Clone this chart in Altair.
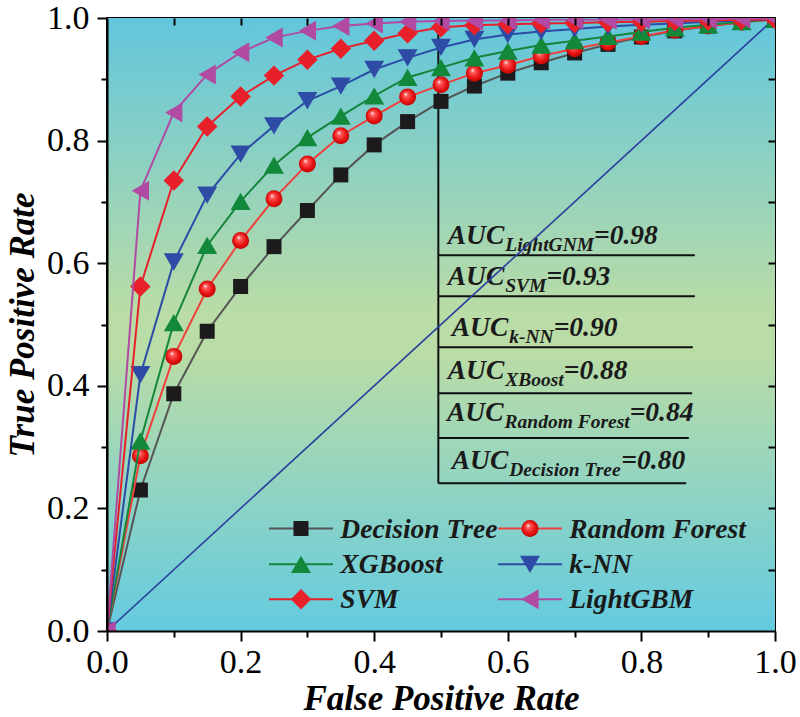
import altair as alt
import pandas as pd

# ---------------- data ----------------
fpr = [0.00, 0.05, 0.10, 0.15, 0.20, 0.25, 0.30, 0.35, 0.40, 0.45, 0.50,
       0.55, 0.60, 0.65, 0.70, 0.75, 0.80, 0.85, 0.90, 0.95, 1.00]
tpr_decision_tree = [0.0, 0.230, 0.387, 0.489, 0.562, 0.627, 0.686, 0.744, 0.793, 0.831, 0.864,
                     0.889, 0.910, 0.927, 0.943, 0.957, 0.969, 0.979, 0.987, 0.993, 0.998]
tpr_random_forest = [0.0, 0.286, 0.448, 0.558, 0.637, 0.705, 0.762, 0.808, 0.840, 0.871, 0.891,
                     0.910, 0.923, 0.938, 0.950, 0.960, 0.970, 0.980, 0.987, 0.993, 0.998]
tpr_xgboost = [0.0, 0.310, 0.503, 0.629, 0.701, 0.760, 0.805, 0.840, 0.873, 0.903, 0.919,
               0.935, 0.946, 0.956, 0.963, 0.970, 0.977, 0.984, 0.989, 0.994, 0.998]
tpr_knn = [0.0, 0.418, 0.602, 0.711, 0.778, 0.824, 0.865, 0.889, 0.916, 0.935, 0.952,
           0.965, 0.973, 0.978, 0.982, 0.986, 0.989, 0.991, 0.994, 0.996, 0.998]
tpr_svm = [0.0, 0.562, 0.735, 0.823, 0.872, 0.906, 0.932, 0.950, 0.963, 0.975, 0.985,
           0.988, 0.990, 0.991, 0.992, 0.993, 0.994, 0.995, 0.996, 0.997, 0.998]
tpr_lightgbm = [0.0, 0.718, 0.846, 0.908, 0.944, 0.968, 0.979, 0.987, 0.991, 0.994, 0.995,
                0.996, 0.996, 0.997, 0.997, 0.997, 0.998, 0.998, 0.998, 0.999, 0.999]

models = ["Decision Tree", "Random Forest", "XGBoost", "k-NN", "SVM", "LightGBM"]
series = [tpr_decision_tree, tpr_random_forest, tpr_xgboost, tpr_knn, tpr_svm, tpr_lightgbm]

diag_x = [0.0, 1.0]
diag_y = [0.0, 1.0]

auc_names = ["LightGNM", "SVM", "k-NN", "XBoost", "Random Forest", "Decision Tree"]
auc_values = ["0.98", "0.93", "0.90", "0.88", "0.84", "0.80"]

all_ticks = [0.0, 0.1, 0.2, 0.3, 0.4, 0.5, 0.6, 0.7, 0.8, 0.9, 1.0]
inner_ticks = [0.1, 0.2, 0.3, 0.4, 0.5, 0.6, 0.7, 0.8, 0.9]

# ---------------- layout / style ----------------
W, H = 668, 613
SERIF = "Liberation Serif"

line_colors = ["#555555", "#f0403c", "#16853c", "#2c4ca6", "#e8202a", "#b04aa2"]
marker_colors = ["#1c1a1c", "#e81c1c", "#12883a", "#2e4ca6", "#e8202a", "#b04aa2"]
shapes = ["square", "circle", "triangle-up", "triangle-down", "diamond", "triangle-left"]
sizes = [225, 289, 400, 400, 420, 400]

sphere = alt.RadialGradient(
    gradient="radial", x1=0.38, y1=0.32, r1=0.0, x2=0.5, y2=0.5, r2=0.55,
    stops=[alt.GradientStop(offset=0.0, color="#ffffff"),
           alt.GradientStop(offset=0.22, color="#ff5a5a"),
           alt.GradientStop(offset=0.65, color="#e81414"),
           alt.GradientStop(offset=1.0, color="#b80000")])

bg_grad = alt.LinearGradient(
    gradient="linear", x1=0, y1=0, x2=0, y2=1,
    stops=[alt.GradientStop(offset=0.0, color="#62c6dc"),
           alt.GradientStop(offset=0.48, color="#badca6"),
           alt.GradientStop(offset=0.55, color="#badca6"),
           alt.GradientStop(offset=1.0, color="#64cbe0")])

xs = alt.Scale(domain=[0, 1], nice=False, zero=False)
ys = alt.Scale(domain=[0, 1], nice=False, zero=False)

is_major = "round(datum.value*10) % 2 == 0"

x_axis = alt.Axis(orient="bottom", values=all_ticks, title="False Positive Rate",
                  labelExpr=f"({is_major}) ? format(datum.value, '.1f') : ''",
                  tickSize={"condition": {"test": is_major, "value": 10}, "value": 6},
                  tickWidth=2, tickColor="black", domainColor="black", domainWidth=2,
                  labelFont=SERIF, labelFontSize=34, labelColor="black", labelPadding=4,
                  labelFlush=False, labelOverlap=False,
                  titleFont=SERIF, titleFontSize=35, titleFontWeight="bold",
                  titleFontStyle="italic", titleColor="black",
                  titleX=W / 2, titleY=78, titleAlign="center", titleBaseline="alphabetic",
                  grid=False, zindex=1)
y_axis = alt.Axis(orient="left", values=all_ticks, title="True Positive Rate",
                  labelExpr=f"({is_major}) ? format(datum.value, '.1f') : ''",
                  tickSize={"condition": {"test": is_major, "value": 10}, "value": 6},
                  tickWidth=2, tickColor="black", domainColor="black", domainWidth=2,
                  labelFont=SERIF, labelFontSize=34, labelColor="black", labelPadding=8,
                  labelFlush=False, labelOverlap=False,
                  titleFont=SERIF, titleFontSize=35, titleFontWeight="bold",
                  titleFontStyle="italic", titleColor="black", titleAngle=270,
                  titleX=-74, titleY=H / 2, titleAlign="center", titleBaseline="alphabetic",
                  grid=False, zindex=1)
x_top = alt.Axis(orient="top", values=inner_ticks, labels=False, domain=False, title=None,
                 tickSize=7, offset=-7, tickWidth=2, tickColor="black", grid=False, zindex=1)
y_right = alt.Axis(orient="right", values=inner_ticks, labels=False, domain=False, title=None,
                   tickSize=7, offset=-7, tickWidth=2, tickColor="black", grid=False, zindex=1)

# ---------------- tables ----------------
rows = []
for m, vals in zip(models, series):
    for i, (fx, ty) in enumerate(zip(fpr, vals)):
        rows.append({"model": m, "fpr": fx, "tpr": ty, "idx": i})
roc = pd.DataFrame(rows)

layers = []

# background gradient
bg = pd.DataFrame({"x0": [0.0], "x1": [1.0], "y0": [0.0], "y1": [1.0]})
layers.append(alt.Chart(bg).mark_rect(fill=bg_grad, stroke=None).encode(
    x=alt.X("x0:Q", scale=xs, axis=None), x2="x1:Q",
    y=alt.Y("y0:Q", scale=ys, axis=None), y2="y1:Q"))

# AUC table lines
tbl_x = 0.496
tbl_top = 1.0
tbl_line_y = [0.613, 0.546, 0.463, 0.388, 0.315, 0.241]
tbl_line_end = [0.880, 0.880, 0.877, 0.876, 0.871, 0.867]
hl = pd.DataFrame({"x0": [tbl_x] * 6, "x1": tbl_line_end, "y": tbl_line_y})
layers.append(alt.Chart(hl).mark_rule(color="#111111", strokeWidth=2).encode(
    x=alt.X("x0:Q", scale=xs, axis=None), x2="x1:Q", y=alt.Y("y:Q", scale=ys, axis=None)))
vl = pd.DataFrame({"x": [tbl_x], "y0": [min(tbl_line_y)], "y1": [tbl_top]})
layers.append(alt.Chart(vl).mark_rule(color="#111111", strokeWidth=2).encode(
    x=alt.X("x:Q", scale=xs, axis=None), y=alt.Y("y0:Q", scale=ys, axis=None), y2="y1:Q"))

# AUC text (main + subscript), widths from Times Bold Italic metrics
BI = {" ": 250, "=": 570, ".": 250, "-": 333,
      "A": 667, "B": 667, "C": 667, "D": 722, "E": 667, "F": 667, "G": 722, "H": 778,
      "I": 389, "J": 500, "K": 667, "L": 611, "M": 889, "N": 722, "O": 722, "P": 611,
      "Q": 722, "R": 667, "S": 556, "T": 611, "U": 722, "V": 667, "W": 889, "X": 667,
      "Y": 611, "Z": 611, "a": 500, "b": 500, "c": 444, "d": 500, "e": 444, "f": 333,
      "g": 500, "h": 556, "i": 278, "j": 278, "k": 500, "l": 278, "m": 778, "n": 556,
      "o": 500, "p": 500, "q": 500, "r": 389, "s": 389, "t": 278, "u": 556, "v": 444,
      "w": 667, "x": 500, "y": 444, "z": 389}


def tw(s, size):
    return sum(BI.get(c, 500) for c in s) / 1000.0 * size


AUC_SIZE, SUB_SIZE = 27.5, 19.5
auc_x = [0.510, 0.510, 0.516, 0.510, 0.509, 0.516]
auc_y = [0.632, 0.565, 0.481, 0.411, 0.343, 0.265]
main_rows, sub_rows = [], []
for name, val, ax, ay in zip(auc_names, auc_values, auc_x, auc_y):
    main_rows.append({"x": ax, "y": ay, "t": "AUC"})
    sx = ax + (tw("AUC", AUC_SIZE) + 1) / W
    sub_rows.append({"x": sx, "y": ay, "t": name})
    vx = sx + tw(name, SUB_SIZE) / W
    main_rows.append({"x": vx, "y": ay, "t": "=" + val})
layers.append(alt.Chart(pd.DataFrame(main_rows)).mark_text(
    font=SERIF, fontSize=AUC_SIZE, fontWeight="bold", fontStyle="italic", color="#1a1a1a",
    align="left", baseline="alphabetic").encode(
    x=alt.X("x:Q", scale=xs, axis=None), y=alt.Y("y:Q", scale=ys, axis=None), text="t:N"))
layers.append(alt.Chart(pd.DataFrame(sub_rows)).mark_text(
    font=SERIF, fontSize=SUB_SIZE, fontWeight="bold", fontStyle="italic", color="#1a1a1a",
    align="left", baseline="alphabetic", dy=7).encode(
    x=alt.X("x:Q", scale=xs, axis=None), y=alt.Y("y:Q", scale=ys, axis=None), text="t:N"))

# diagonal reference
diag = pd.DataFrame({"x": diag_x, "y": diag_y})
layers.append(alt.Chart(diag).mark_line(color="#2b3f9e", strokeWidth=1.6, clip=True).encode(
    x=alt.X("x:Q", scale=xs, axis=None), y=alt.Y("y:Q", scale=ys, axis=None)))

# ROC curves and markers
for k, m in enumerate(models):
    base = alt.Chart(roc).transform_filter(alt.datum.model == m)
    layers.append(base.mark_line(color=line_colors[k], strokeWidth=2, clip=True).encode(
        x=alt.X("fpr:Q", scale=xs, axis=None), y=alt.Y("tpr:Q", scale=ys, axis=None),
        order="idx:Q"))
    fill = sphere if m == "Random Forest" else marker_colors[k]
    layers.append(base.mark_point(shape=shapes[k], size=sizes[k], filled=True, fill=fill,
                                  strokeWidth=0, opacity=1, clip=True).encode(
        x=alt.X("fpr:Q", scale=xs, axis=None), y=alt.Y("tpr:Q", scale=ys, axis=None)))

# manual legend (2 columns x 3 rows)
leg_col_x0 = [0.2425, 0.5853]
leg_seg = 0.0958
leg_text_gap = 0.0110
leg_row_y = [0.1672, 0.1088, 0.0519]
leg = []
for k, m in enumerate(models):
    c, r = k % 2, k // 2
    x0 = leg_col_x0[c]
    leg.append({"model": m, "x0": x0, "x1": x0 + leg_seg, "xm": x0 + leg_seg / 2,
                "xt": x0 + leg_seg + leg_text_gap, "y": leg_row_y[r]})
legdf = pd.DataFrame(leg)
for k, m in enumerate(models):
    b = alt.Chart(legdf).transform_filter(alt.datum.model == m)
    layers.append(b.mark_rule(color=line_colors[k], strokeWidth=2).encode(
        x=alt.X("x0:Q", scale=xs, axis=None), x2="x1:Q", y=alt.Y("y:Q", scale=ys, axis=None)))
    fill = sphere if m == "Random Forest" else marker_colors[k]
    layers.append(b.mark_point(shape=shapes[k], size=sizes[k], filled=True, fill=fill,
                               strokeWidth=0, opacity=1).encode(
        x=alt.X("xm:Q", scale=xs, axis=None), y=alt.Y("y:Q", scale=ys, axis=None)))
layers.append(alt.Chart(legdf).mark_text(
    font=SERIF, fontSize=27.5, fontWeight="bold", fontStyle="italic", color="#1a1a1a",
    align="left", baseline="alphabetic", dy=9).encode(
    x=alt.X("xt:Q", scale=xs, axis=None), y=alt.Y("y:Q", scale=ys, axis=None), text="model:N"))

# axes (bottom/left with labels, top/right inner ticks)
layers.append(alt.Chart(roc).mark_point(opacity=0).encode(
    x=alt.X("fpr:Q", scale=xs, axis=x_axis), y=alt.Y("tpr:Q", scale=ys, axis=y_axis)))
layers.append(alt.Chart(roc).mark_point(opacity=0).encode(
    x=alt.X("fpr:Q", scale=xs, axis=x_top), y=alt.Y("tpr:Q", scale=ys, axis=y_right)))

chart = alt.layer(*layers).resolve_axis(x="independent", y="independent").properties(
    width=W, height=H,
    autosize=alt.AutoSizeParams(type="none"),
    padding={"left": 107, "top": 18, "right": 25, "bottom": 86},
    background="white",
).configure_view(stroke="black", strokeWidth=2)

chart.save("out.html", embed_options={"renderer": "svg", "actions": False})
